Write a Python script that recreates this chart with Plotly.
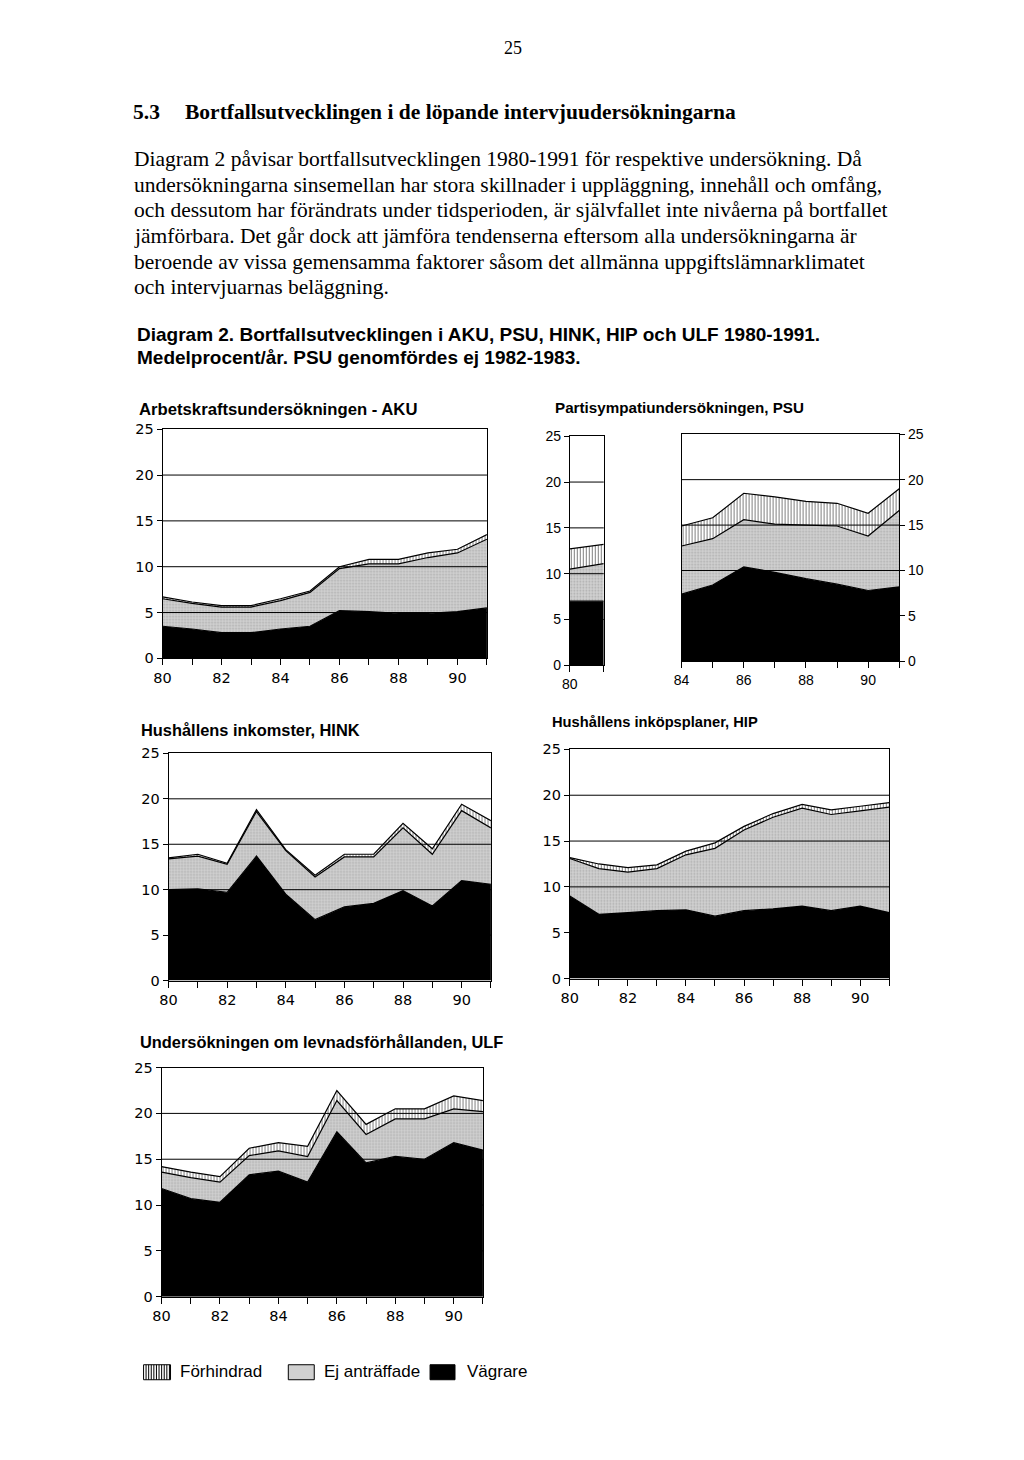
import plotly.graph_objects as go

W, H = 1024, 1460

years = [80, 81, 82, 83, 84, 85, 86, 87, 88, 89, 90, 91]

aku_vagrare = [3.5, 3.2, 2.8, 2.8, 3.2, 3.5, 5.2, 5.1, 4.9, 4.9, 5.1, 5.5]
aku_ej = [3.0, 2.8, 2.8, 2.8, 3.1, 3.7, 4.6, 5.2, 5.4, 6.1, 6.4, 7.5]
aku_forh = [0.2, 0.15, 0.15, 0.15, 0.2, 0.15, 0.2, 0.5, 0.5, 0.5, 0.4, 0.5]

psu_years_a = [80, 81]
psu_vagrare_a = [7.0, 7.0]
psu_ej_a = [3.5, 4.1]
psu_forh_a = [2.2, 2.1]
psu_years_b = [84, 85, 86, 87, 88, 89, 90, 91]
psu_vagrare_b = [7.4, 8.4, 10.4, 9.8, 9.1, 8.5, 7.8, 8.2]
psu_ej_b = [5.3, 5.1, 5.2, 5.3, 5.9, 6.4, 6.0, 8.4]
psu_forh_b = [2.2, 2.3, 2.9, 3.0, 2.6, 2.5, 2.5, 2.4]

hink_vagrare = [10.0, 10.1, 9.7, 13.7, 9.5, 6.7, 8.1, 8.5, 9.9, 8.2, 11.0, 10.6]
hink_ej = [3.4, 3.6, 3.1, 4.9, 4.8, 4.7, 5.5, 5.1, 6.9, 5.7, 7.7, 6.2]
hink_forh = [0.1, 0.2, 0.1, 0.2, 0.1, 0.2, 0.3, 0.3, 0.5, 0.6, 0.7, 0.8]

hip_vagrare = [9.0, 7.0, 7.2, 7.4, 7.5, 6.8, 7.4, 7.6, 7.9, 7.4, 7.9, 7.2]
hip_ej = [4.1, 5.0, 4.4, 4.6, 6.0, 7.4, 8.8, 10.0, 10.7, 10.5, 10.4, 11.5]
hip_forh = [0.1, 0.5, 0.5, 0.4, 0.4, 0.6, 0.4, 0.4, 0.4, 0.5, 0.5, 0.5]

ulf_vagrare = [11.8, 10.7, 10.3, 13.3, 13.7, 12.5, 18.0, 14.6, 15.3, 15.0, 16.8, 16.0]
ulf_ej = [1.8, 2.3, 2.2, 2.1, 2.2, 2.8, 3.4, 3.1, 4.1, 4.4, 3.7, 4.2]
ulf_forh = [0.6, 0.6, 0.6, 0.8, 0.9, 1.1, 1.1, 1.1, 1.1, 1.1, 1.4, 1.2]

y_ticks = [0, 5, 10, 15, 20, 25]
grid_vals = [5, 10, 15, 20]
x_labels_even = [80, 82, 84, 86, 88, 90]
series_names = ["Vägrare", "Ej anträffade", "Förhindrad"]

SANS = "Liberation Sans, Arial, sans-serif"
TICK = "DejaVu Sans, Liberation Sans, sans-serif"
NARROW = "Liberation Sans Narrow, Liberation Sans, Arial, sans-serif"
SERIF = "Liberation Serif, Times New Roman, serif"

# compensation for the page offset/scale observed in the photographed page
OX, OY, SX, SY = 15.2, 16.0, 0.993, 0.9885


def px(x):
    return ((x - OX) / SX) / W


def py(y):
    return 1 - ((y - OY) / SY) / H


def sfx(n):
    return "" if n == 1 else str(n)


# panel geometry in reference pixels: (left, right, top, bottom)
panels = {
    1: (161, 486, 429, 658),   # AKU
    2: (569, 603, 436, 665),   # PSU a
    3: (681, 899, 434, 661),   # PSU b
    4: (167, 490, 753, 980),   # HINK
    5: (569, 889, 749, 978),   # HIP
    6: (160, 482, 1067, 1296), # ULF
}

fig = go.Figure()

styles = {
    "Vägrare": dict(fillcolor="black", fillpattern=None),
    "Ej anträffade": dict(fillcolor="#cccccc",
                          fillpattern=dict(shape=".", fgcolor="#858585", bgcolor="#d2d2d2",
                                           size=3, solidity=0.3)),
    "Förhindrad": dict(fillcolor="white",
                       fillpattern=dict(shape="|", fgcolor="black", bgcolor="white",
                                        size=3, solidity=0.35)),
}


def add_stack(n, xs, vag, ej, forh):
    for name, vals in zip(series_names, [vag, ej, forh]):
        st = styles[name]
        kw = dict(x=xs, y=vals, name=name, mode="lines", stackgroup=f"s{n}",
                  line=dict(color="black", width=1.2),
                  fillcolor=st["fillcolor"], showlegend=False,
                  xaxis=f"x{sfx(n)}", yaxis=f"y{sfx(n)}")
        if st["fillpattern"] is not None:
            kw["fillpattern"] = st["fillpattern"]
        fig.add_trace(go.Scatter(**kw))


add_stack(1, years, aku_vagrare, aku_ej, aku_forh)
add_stack(2, psu_years_a, psu_vagrare_a, psu_ej_a, psu_forh_a)
add_stack(3, psu_years_b, psu_vagrare_b, psu_ej_b, psu_forh_b)
add_stack(4, years, hink_vagrare, hink_ej, hink_forh)
add_stack(5, years, hip_vagrare, hip_ej, hip_forh)
add_stack(6, years, ulf_vagrare, ulf_ej, ulf_forh)

layout = dict(
    width=W, height=H, margin=dict(l=0, r=0, t=0, b=0),
    paper_bgcolor="white", plot_bgcolor="white", showlegend=False,
)

shapes = []
for n, (l, r, t, b) in panels.items():
    key = sfx(n)
    narrow = n in (2, 3)
    tf = dict(family=NARROW if narrow else TICK, size=14 if narrow else 14.5, color="black")
    if n == 2:
        xr = [80, 81]
        tickvals = [80]
    elif n == 3:
        xr = [84, 91]
        tickvals = [84, 86, 88, 90]
    else:
        xr = [80, 91]
        tickvals = x_labels_even
    layout[f"xaxis{key}"] = dict(
        domain=[px(l), px(r)], range=xr, anchor=f"y{key}",
        tickmode="array", tickvals=tickvals, ticks="outside", ticklen=6,
        tickcolor="black", tickwidth=1,
        minor=dict(dtick=1, tick0=80, ticks="outside", ticklen=6, tickcolor="black", showgrid=False),
        showgrid=False, zeroline=False, showline=True, mirror=True,
        linecolor="black", linewidth=1, tickfont=tf, layer="above traces",
        fixedrange=True,
    )
    layout[f"yaxis{key}"] = dict(
        domain=[py(b), py(t)], range=[0, 25], anchor=f"x{key}",
        tickmode="array", tickvals=y_ticks, ticks="outside", ticklen=5,
        tickcolor="black", side="right" if n == 3 else "left",
        showgrid=False, zeroline=False, showline=True, mirror=True,
        linecolor="black", linewidth=1, tickfont=tf, layer="above traces",
        fixedrange=True,
    )
    for g in grid_vals:
        shapes.append(dict(type="line", xref=f"x{key} domain", yref=f"y{key}",
                           x0=0, x1=1, y0=g, y1=g, layer="above",
                           line=dict(color="black", width=1)))

fig.update_layout(**layout)

annotations = []


def text(x, y, s, size, family, bold=False, anchor="left"):
    annotations.append(dict(
        xref="paper", yref="paper", x=px(x), y=py(y), text=(f"<b>{s}</b>" if bold else s),
        showarrow=False, xanchor=anchor, yanchor="middle",
        font=dict(family=family, size=size, color="black")))


text(512, 48, "25", 18, SERIF, anchor="center")
text(129, 112, "5.3", 21.5, SERIF, bold=True)
text(181, 112, "Bortfallsutvecklingen i de löpande intervjuudersökningarna", 21.5, SERIF, bold=True)
para = [
    "Diagram 2 påvisar bortfallsutvecklingen 1980-1991 för respektive undersökning. Då",
    "undersökningarna sinsemellan har stora skillnader i uppläggning, innehåll och omfång,",
    "och dessutom har förändrats under tidsperioden, är självfallet inte nivåerna på bortfallet",
    "jämförbara. Det går dock att jämföra tendenserna eftersom alla undersökningarna är",
    "beroende av vissa gemensamma faktorer såsom det allmänna uppgiftslämnarklimatet",
    "och intervjuarnas beläggning.",
]
for i, line in enumerate(para):
    text(130, 159 + i * 25.6, line, 21.5, SERIF)
text(133, 334, "Diagram 2. Bortfallsutvecklingen i AKU, PSU, HINK, HIP och ULF 1980-1991.", 19, SANS, bold=True)
text(133, 357, "Medelprocent/år. PSU genomfördes ej 1982-1983.", 19, SANS, bold=True)

text(135, 409, "Arbetskraftsundersökningen - AKU", 16.7, SANS, bold=True)
text(552, 407, "Partisympatiundersökningen, PSU", 15.2, SANS, bold=True)
text(137, 730, "Hushållens inkomster, HINK", 16.4, SANS, bold=True)
text(549, 722, "Hushållens inköpsplaner, HIP", 14.7, SANS, bold=True)
text(136, 1041, "Undersökningen om levnadsförhållanden, ULF", 16.4, SANS, bold=True)

# legend
ly0, ly1 = 1364, 1379


def pr(x0, x1, y0, y1, fill):
    shapes.append(dict(type="rect", xref="paper", yref="paper", x0=px(x0), x1=px(x1),
                       y0=py(y1), y1=py(y0), fillcolor=fill, line=dict(color="black", width=1)))


pr(142, 169, ly0, ly1, "white")
xx = 144.5
while xx < 168:
    shapes.append(dict(type="line", xref="paper", yref="paper", x0=px(xx), x1=px(xx),
                       y0=py(ly1), y1=py(ly0), line=dict(color="black", width=1)))
    xx += 2.6
pr(287, 313, ly0, ly1, "#d0d0d0")
pr(429, 454, ly0, ly1, "black")
text(176, 1371, "Förhindrad", 17, SANS)
text(321, 1371, "Ej anträffade", 17, SANS)
text(464, 1371, "Vägrare", 17, SANS)

fig.update_layout(shapes=shapes, annotations=annotations)
fig.write_html("out.html")
